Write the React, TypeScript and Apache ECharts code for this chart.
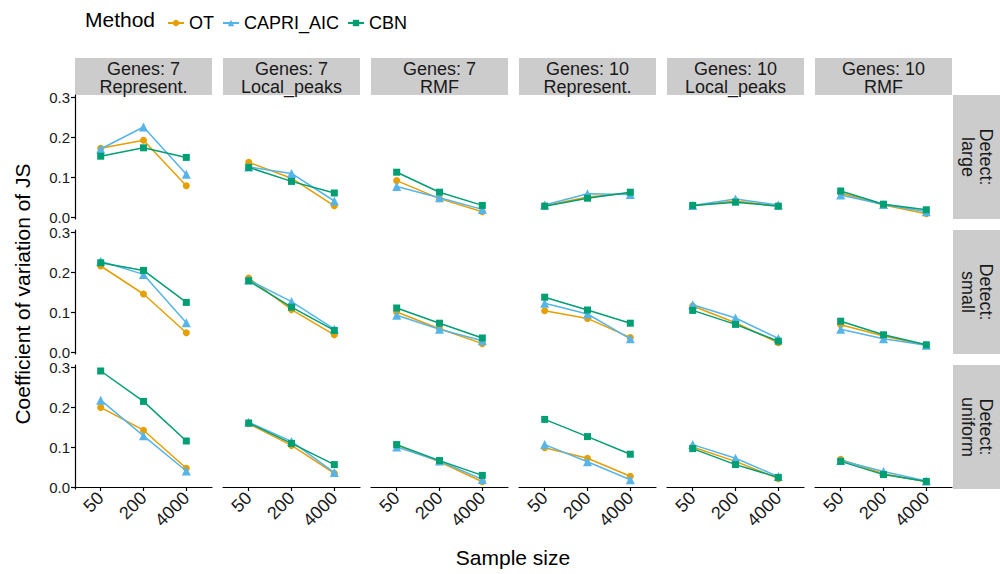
import React, { useEffect, useRef } from "react";
import * as echarts from "echarts";

const sampleSizes = ["50", "200", "4000"];
const methods = ["OT", "CAPRI_AIC", "CBN"];
const colors = ["#E69F00", "#56B4E9", "#009E73"];
const symbols = ["circle", "triangle", "rect"];
const symbolSizes = [7, 9, 7];
const colGenes = ["7", "7", "7", "10", "10", "10"];
const colModels = ["Represent.", "Local_peaks", "RMF", "Represent.", "Local_peaks", "RMF"];
const detects = ["large", "small", "uniform"];
const yTicks = [0, 0.1, 0.2, 0.3];

// values per panel (6 columns), per sample size
const otLarge = [
  [0.172, 0.192, 0.078], [0.137, 0.097, 0.028], [0.091, 0.046, 0.013],
  [0.028, 0.05, 0.06], [0.028, 0.04, 0.028], [0.06, 0.03, 0.008],
];
const capriLarge = [
  [0.17, 0.225, 0.107], [0.125, 0.109, 0.04], [0.076, 0.048, 0.019],
  [0.03, 0.058, 0.056], [0.029, 0.045, 0.03], [0.055, 0.031, 0.013],
];
const cbnLarge = [
  [0.152, 0.173, 0.149], [0.124, 0.089, 0.06], [0.112, 0.062, 0.029],
  [0.027, 0.047, 0.062], [0.029, 0.037, 0.027], [0.065, 0.032, 0.018],
];
const otSmall = [
  [0.215, 0.145, 0.048], [0.185, 0.106, 0.043], [0.1, 0.058, 0.021],
  [0.103, 0.084, 0.036], [0.115, 0.073, 0.023], [0.068, 0.04, 0.017],
];
const capriSmall = [
  [0.227, 0.194, 0.073], [0.18, 0.126, 0.057], [0.092, 0.057, 0.028],
  [0.122, 0.095, 0.033], [0.118, 0.085, 0.034], [0.057, 0.033, 0.017],
];
const cbnSmall = [
  [0.223, 0.204, 0.124], [0.178, 0.112, 0.054], [0.11, 0.072, 0.035],
  [0.137, 0.105, 0.072], [0.104, 0.069, 0.027], [0.077, 0.043, 0.018],
];
const otUniform = [
  [0.199, 0.142, 0.047], [0.158, 0.104, 0.034], [0.105, 0.063, 0.013],
  [0.098, 0.072, 0.027], [0.1, 0.064, 0.021], [0.069, 0.033, 0.013],
];
const capriUniform = [
  [0.217, 0.128, 0.04], [0.162, 0.114, 0.036], [0.1, 0.065, 0.019],
  [0.106, 0.063, 0.018], [0.106, 0.072, 0.026], [0.066, 0.039, 0.015],
];
const cbnUniform = [
  [0.29, 0.214, 0.115], [0.16, 0.109, 0.056], [0.106, 0.066, 0.029],
  [0.169, 0.126, 0.082], [0.096, 0.056, 0.024], [0.064, 0.031, 0.014],
];

const rowData = [
  [otLarge, capriLarge, cbnLarge],
  [otSmall, capriSmall, cbnSmall],
  [otUniform, capriUniform, cbnUniform],
];

const colLeft = [75, 223, 371, 519, 667, 815];
const panelW = 137;
const rowTop = [95, 230, 365];
const panelH = 124;
const stripTop = 58;
const stripH = 37;
const rightStripX = 953;
const rightStripW = 47;
const textColor = "#1a1a1a";
const font = "Liberation Sans, Arial, sans-serif";

export default function App() {
  const ref = useRef<HTMLDivElement>(null);
  useEffect(() => {
    if (!ref.current) return;
    const chart = echarts.init(ref.current, null, { renderer: "svg" });
    const grids: any[] = [];
    const xAxes: any[] = [];
    const yAxes: any[] = [];
    const series: any[] = [];
    const graphics: any[] = [];
    let gi = 0;
    for (let r = 0; r < 3; r++) {
      for (let c = 0; c < 6; c++) {
        grids.push({ left: colLeft[c], top: rowTop[r], width: panelW, height: panelH });
        const isBottom = r === 2;
        const isLeft = c === 0;
        xAxes.push({
          gridIndex: gi,
          type: "value",
          min: 0.4,
          max: 3.6,
          show: isBottom,
          axisLine: { show: true, lineStyle: { color: "#000", width: 1.2 } },
          axisTick: { show: true, length: 4, customValues: [1, 2, 3], lineStyle: { color: "#000", width: 1.2 } },
          axisLabel: {
            show: true,
            customValues: [1, 2, 3],
            rotate: 45,
            margin: 6,
            fontSize: 18,
            color: textColor,
            fontFamily: font,
            formatter: (v: number) => sampleSizes[Math.round(v) - 1] ?? "",
          },
          splitLine: { show: false },
        });
        yAxes.push({
          gridIndex: gi,
          type: "value",
          min: -0.005,
          max: 0.305,
          show: isLeft,
          axisLine: { show: true, lineStyle: { color: "#000", width: 1.2 } },
          axisTick: { show: true, length: 4, customValues: yTicks, lineStyle: { color: "#000", width: 1.2 } },
          axisLabel: {
            show: true,
            customValues: yTicks,
            margin: 5,
            fontSize: 15,
            lineHeight: 12,
            color: textColor,
            fontFamily: font,
            formatter: (v: number) => v.toFixed(1),
          },
          splitLine: { show: false },
        });
        for (let m = 0; m < 3; m++) {
          const vals = rowData[r][m][c];
          series.push({
            name: methods[m],
            type: "line",
            xAxisIndex: gi,
            yAxisIndex: gi,
            data: vals.map((v, i) => [i + 1, v]),
            symbol: symbols[m],
            symbolSize: symbolSizes[m],
            showSymbol: true,
            lineStyle: { color: colors[m], width: 1.5 },
            itemStyle: { color: colors[m] },
            z: 2 + m,
          });
        }
        gi++;
      }
    }
    // column strips
    for (let c = 0; c < 6; c++) {
      graphics.push({
        type: "rect",
        shape: { x: colLeft[c], y: stripTop, width: panelW, height: stripH },
        style: { fill: "#CCCCCC" },
        silent: true,
      });
      graphics.push({
        type: "text",
        x: colLeft[c] + panelW / 2,
        y: stripTop + stripH / 2 + 1,
        style: {
          text: `Genes: ${colGenes[c]}\n${colModels[c]}`,
          fill: textColor,
          fontSize: 18,
          lineHeight: 18,
          fontFamily: font,
          align: "center",
          verticalAlign: "middle",
        },
        silent: true,
      });
    }
    // row strips
    for (let r = 0; r < 3; r++) {
      graphics.push({
        type: "rect",
        shape: { x: rightStripX, y: rowTop[r], width: rightStripW, height: panelH },
        style: { fill: "#CCCCCC" },
        silent: true,
      });
      graphics.push({
        type: "text",
        x: rightStripX + rightStripW / 2,
        y: rowTop[r] + panelH / 2,
        rotation: -Math.PI / 2,
        style: {
          text: `Detect:\n${detects[r]}`,
          fill: textColor,
          fontSize: 18,
          lineHeight: 18,
          fontFamily: font,
          align: "center",
          verticalAlign: "middle",
        },
        silent: true,
      });
    }
    // axis titles
    graphics.push({
      type: "text",
      x: 22,
      y: 294,
      rotation: Math.PI / 2,
      style: {
        text: "Coefficient of variation of JS",
        fill: "#000",
        fontSize: 21,
        fontFamily: font,
        align: "center",
        verticalAlign: "middle",
      },
      silent: true,
    });
    graphics.push({
      type: "text",
      x: 513,
      y: 557,
      style: {
        text: "Sample size",
        fill: "#000",
        fontSize: 21,
        fontFamily: font,
        align: "center",
        verticalAlign: "middle",
      },
      silent: true,
    });
    graphics.push({
      type: "text",
      x: 85,
      y: 19,
      style: {
        text: "Method",
        fill: "#000",
        fontSize: 21,
        fontFamily: font,
        align: "left",
        verticalAlign: "middle",
      },
      silent: true,
    });

    chart.setOption({
      animation: false,
      backgroundColor: "#ffffff",
      grid: grids,
      xAxis: xAxes,
      yAxis: yAxes,
      series,
      legend: {
        data: methods,
        left: 162,
        top: 9,
        itemWidth: 16,
        itemHeight: 8,
        itemGap: 8,
        textStyle: { fontSize: 18, color: "#000", fontFamily: font },
        selectedMode: false,
      },
      graphic: graphics,
    });
    return () => chart.dispose();
  }, []);
  return (
    <div
      ref={ref}
      style={{ position: "absolute", left: 0, top: 0, width: 1000, height: 574 }}
    />
  );
}
